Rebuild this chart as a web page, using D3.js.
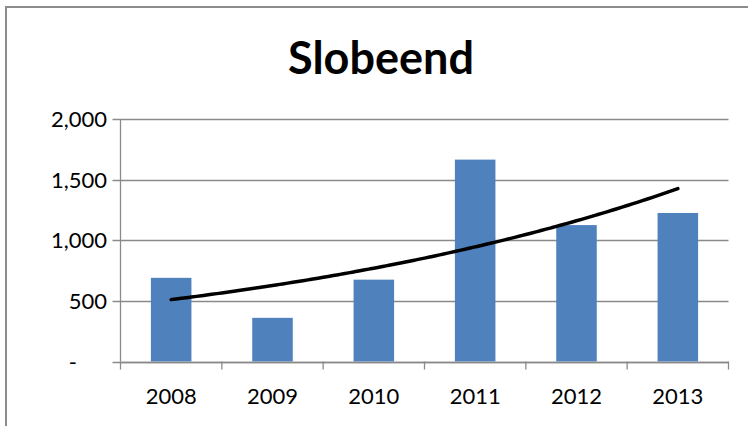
<!DOCTYPE html>
<html>
<head>
<meta charset="utf-8">
<script src="https://cdn.jsdelivr.net/npm/d3@7"></script>
<style>
  body { margin: 0; background: #fff; }
  text { font-family: Lato, "Open Sans", sans-serif; }
</style>
</head>
<body>
<script>
// data
var years = ["2008", "2009", "2010", "2011", "2012", "2013"];
var counts = [690, 360, 675, 1665, 1125, 1225];
var yTicks = [0, 500, 1000, 1500, 2000];
var title = "Slobeend";

var width = 748, height = 426;
var plotLeft = 120.5, plotRight = 728.5, plotTop = 119, plotBottom = 361.5;

var svg = d3.select("body")
    .append("svg")
    .attr("width", width)
    .attr("height", height);

// chart frame (only left and top visible)
svg.append("path")
    .attr("d", "M6,430 L6,7 L760,7")
    .style("fill", "none")
    .style("stroke", "#8c8c8c")
    .style("stroke-width", 2);

svg.append("text")
    .attr("x", 381)
    .attr("y", 74)
    .attr("text-anchor", "middle")
    .attr("font-size", "45px")
    .attr("font-weight", "bold")
    .text(title);

var x = d3.scaleBand()
    .domain(years)
    .range([plotLeft, plotRight])
    .paddingInner(0.6)
    .paddingOuter(0.3);

var y = d3.scaleLinear()
    .domain([0, 2000])
    .range([plotBottom, plotTop]);

// gridlines
svg.selectAll(".grid")
    .data(yTicks)
    .enter()
    .append("line")
    .attr("x1", plotLeft - 8)
    .attr("x2", plotRight)
    .attr("y1", function(d) { return Math.round(y(d)) + 0.5; })
    .attr("y2", function(d) { return Math.round(y(d)) + 0.5; })
    .style("stroke", "#8a8a8a")
    .style("stroke-width", 1.3);

// y axis labels
svg.selectAll(".ylab")
    .data(yTicks)
    .enter()
    .append("text")
    .attr("x", function(d) { return d == 0 ? 77 : 107; })
    .attr("y", function(d) { return y(d) + 8; })
    .attr("text-anchor", "end")
    .attr("font-size", "22px")
    .text(function(d) { return d == 0 ? "-" : d3.format(",")(d); });

// bars
svg.selectAll(".bar")
    .data(years)
    .enter()
    .append("rect")
    .attr("x", function(d) { return x(d); })
    .attr("width", x.bandwidth())
    .attr("y", function(d, i) { return y(counts[i]); })
    .attr("height", function(d, i) { return y(0) - y(counts[i]); })
    .style("fill", "#4f81bd");

// y axis line
svg.append("line")
    .attr("x1", plotLeft).attr("x2", plotLeft)
    .attr("y1", plotTop).attr("y2", plotBottom)
    .style("stroke", "#8a8a8a")
    .style("stroke-width", 1.3);

// x axis line with category boundary ticks
var xAxis = d3.axisBottom(x).tickSize(0).tickPadding(26);
var gx = svg.append("g")
    .attr("transform", "translate(0," + (Math.round(plotBottom) + 0.5) + ")")
    .call(xAxis);
gx.select(".domain")
    .attr("d", "M" + plotLeft + ",0H" + plotRight)
    .style("stroke", "#8a8a8a")
    .style("stroke-width", 1.3);
gx.selectAll("text")
    .attr("font-size", "22px")
    .attr("font-family", "Lato, sans-serif")
    .attr("fill", "#000");

var step = x.step();
svg.selectAll(".xtick")
    .data(d3.range(years.length + 1))
    .enter()
    .append("line")
    .attr("x1", function(i) { return plotLeft + i * step; })
    .attr("x2", function(i) { return plotLeft + i * step; })
    .attr("y1", plotBottom)
    .attr("y2", plotBottom + 8)
    .style("stroke", "#8a8a8a")
    .style("stroke-width", 1.3);

// exponential trendline fitted like Excel does (least squares on ln y)
var n = counts.length;
var xs = d3.range(n);
var lns = counts.map(function(v) { return Math.log(v); });
var mx = d3.mean(xs), ml = d3.mean(lns);
var b = d3.sum(xs, function(v, i) { return (v - mx) * (lns[i] - ml); }) /
        d3.sum(xs, function(v) { return (v - mx) * (v - mx); });
var a = ml - b * mx;
var trendPts = d3.range(0, n - 1 + 0.001, 0.05).map(function(t) {
    return [x(years[0]) + x.bandwidth() / 2 + t * step, y(Math.exp(a + b * t))];
});

svg.append("path")
    .datum(trendPts)
    .attr("d", d3.line().curve(d3.curveMonotoneX))
    .style("fill", "none")
    .style("stroke", "#000")
    .style("stroke-width", 3.5)
    .style("stroke-linecap", "round");
</script>
</body>
</html>
